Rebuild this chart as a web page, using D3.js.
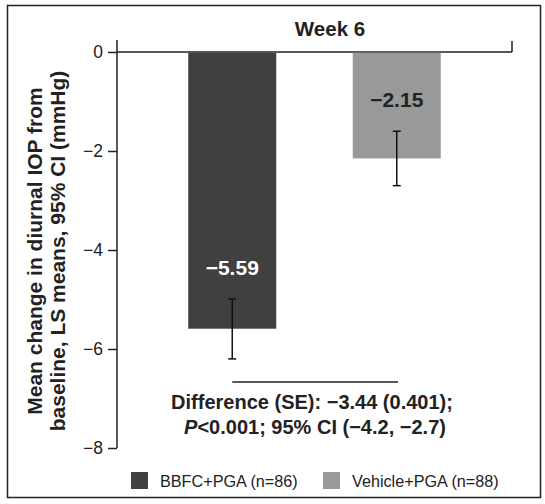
<!DOCTYPE html>
<html>
<head>
<meta charset="utf-8">
<script src="https://cdn.jsdelivr.net/npm/d3@7.9.0/dist/d3.min.js"></script>
<style>
  body { margin: 0; background: #fff; }
  svg { font-family: Arial, "Liberation Sans", sans-serif; }
</style>
</head>
<body>
<svg width="545" height="504"></svg>
<script>
const groups = ['BBFC+PGA (n=86)', 'Vehicle+PGA (n=88)'];
const means = [-5.59, -2.15];
const ciLow = [-6.2, -2.7];
const ciHigh = [-4.99, -1.6];
const yTicks = [0, -2, -4, -6, -8];
const colors = ['#404040', '#999999'];

const svg = d3.select('svg');
const ink = '#222';

// outer frame
svg.append('rect')
  .attr('x', 7.5).attr('y', 5.5)
  .attr('width', 533).attr('height', 492)
  .attr('fill', 'none').attr('stroke', ink).attr('stroke-width', 1.5);

let y = d3.scaleLinear().domain([-8, 0]).range([448, 52]);
let x = d3.scaleBand().domain(groups).range([117, 512])
  .paddingInner(0.465).paddingOuter(0.433);
const cx = d => x(d) + x.bandwidth() / 2;

let yAxis = d3.axisLeft(y).tickValues(yTicks).tickSize(9).tickPadding(5)
  .tickFormat(d => d === 0 ? '0' : '\u2212' + Math.abs(d));
let gy = svg.append('g').attr('transform', 'translate(117,0)').call(yAxis);
gy.select('.domain').remove();
gy.selectAll('line').attr('stroke', ink).attr('stroke-width', 1.5);
gy.selectAll('text').attr('font-size', 17.5).attr('fill', ink).attr('font-family', 'Arial, "Liberation Sans", sans-serif');

// axis lines
svg.append('line').attr('x1', 117).attr('x2', 117).attr('y1', 40).attr('y2', y(-8))
  .attr('stroke', ink).attr('stroke-width', 1.5);
svg.append('line').attr('x1', 117).attr('x2', 512).attr('y1', y(0)).attr('y2', y(0))
  .attr('stroke', ink).attr('stroke-width', 1.5);
svg.append('line').attr('x1', 512).attr('x2', 512).attr('y1', 41).attr('y2', y(0))
  .attr('stroke', ink).attr('stroke-width', 1.5);

// bars
groups.forEach((g, i) => {
  svg.append('rect')
    .attr('x', x(g))
    .attr('y', y(0) + 0.75)
    .attr('width', x.bandwidth())
    .attr('height', y(means[i]) - y(0) - 0.75)
    .attr('fill', colors[i]);

  svg.append('line')
    .attr('x1', cx(g)).attr('x2', cx(g))
    .attr('y1', y(ciHigh[i])).attr('y2', y(ciLow[i]))
    .attr('stroke', '#111').attr('stroke-width', 1.5);
  [ciHigh[i], ciLow[i]].forEach(v => {
    svg.append('line')
      .attr('x1', cx(g) - 4).attr('x2', cx(g) + 4)
      .attr('y1', y(v)).attr('y2', y(v))
      .attr('stroke', '#111').attr('stroke-width', 1.5);
  });
});

// value labels
svg.append('text').attr('x', cx(groups[0])).attr('y', 275)
  .attr('text-anchor', 'middle').attr('font-size', 21).attr('font-weight', 'bold')
  .attr('fill', '#fff').text('\u22125.59');
svg.append('text').attr('x', cx(groups[1])).attr('y', 107)
  .attr('text-anchor', 'middle').attr('font-size', 21).attr('font-weight', 'bold')
  .attr('fill', ink).text('\u22122.15');

// title
svg.append('text').attr('x', 330).attr('y', 36)
  .attr('text-anchor', 'middle').attr('font-size', 20.5).attr('font-weight', 'bold')
  .attr('fill', ink).text('Week 6');

// y label
const yl = svg.append('text').attr('transform', 'translate(42,251) rotate(-90)')
  .attr('text-anchor', 'middle').attr('font-size', 21).attr('font-weight', 'bold')
  .attr('fill', ink);
yl.append('tspan').attr('x', 0).attr('y', 0).text('Mean change in diurnal IOP from');
yl.append('tspan').attr('x', 0).attr('y', 23).text('baseline, LS means, 95% CI (mmHg)');

// difference bracket
svg.append('line').attr('x1', cx(groups[0])).attr('x2', 398)
  .attr('y1', 382).attr('y2', 382).attr('stroke', ink).attr('stroke-width', 1.5);
svg.append('text').attr('x', 312).attr('y', 409)
  .attr('text-anchor', 'middle').attr('font-size', 20).attr('font-weight', 'bold')
  .attr('fill', ink).text('Difference (SE): \u22123.44 (0.401);');
const t2 = svg.append('text').attr('x', 315).attr('y', 434)
  .attr('text-anchor', 'middle').attr('font-size', 20).attr('font-weight', 'bold')
  .attr('fill', ink);
t2.append('tspan').attr('font-style', 'italic').text('P');
t2.append('tspan').text('<0.001; 95% CI (\u22124.2, \u22122.7)');

// legend
const legX = [131, 323];
groups.forEach((g, i) => {
  svg.append('rect').attr('x', legX[i]).attr('y', 472).attr('width', 17).attr('height', 17)
    .attr('fill', colors[i]);
  svg.append('text').attr('x', legX[i] + 29).attr('y', 487)
    .attr('font-size', 16.2).attr('fill', ink).text(g);
});
</script>
</body>
</html>
